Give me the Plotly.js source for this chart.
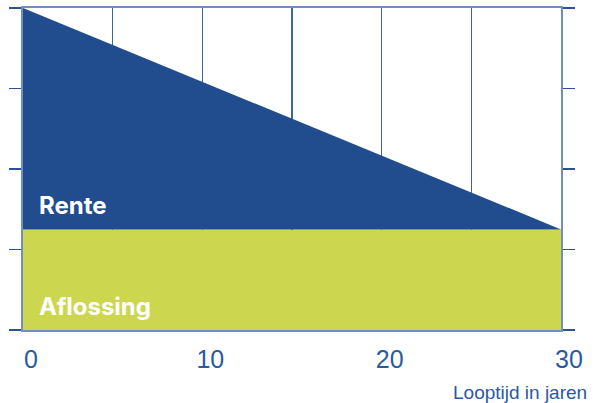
<!DOCTYPE html>
<html><head><meta charset="utf-8">
<script src="https://cdn.plot.ly/plotly-3.0.1.min.js"></script>
<style>body{margin:0;background:#fff}#c{width:606px;height:403px}</style>
</head><body><div id="c"></div>
<script>
const years = [0, 30];
const aflossing = [1.25, 1.25];
const renteTop = [4, 1.25];
const xTickVals = [0, 10, 20, 30];
const xTickText = ['0', '10', '20', '30'];
const yTickVals = [0, 1, 2, 3, 4];

const traces = [
  {x: years, y: aflossing, type: 'scatter', mode: 'lines', fill: 'tozeroy',
   fillcolor: '#ccd74f', line: {width: 0, color: '#ccd74f'}, hoverinfo: 'skip'},
  {x: years, y: renteTop, type: 'scatter', mode: 'lines', fill: 'tonexty',
   fillcolor: '#214d8e', line: {width: 0, color: '#214d8e'}, hoverinfo: 'skip'}
];
const layout = {
  width: 606, height: 403,
  margin: {l: 23, r: 45, t: 8, b: 73},
  paper_bgcolor: '#fff', plot_bgcolor: '#fff',
  showlegend: false,
  xaxis: {range: [0, 30], tickvals: xTickVals, ticktext: xTickText,
    showline: true, linecolor: '#6f8fc4', linewidth: 2, mirror: true,
    showgrid: true, gridcolor: '#3d64a3', gridwidth: 1.5,
    minor: {dtick: 5, showgrid: true, gridcolor: '#3d64a3', gridwidth: 1.5},
    ticks: '', zeroline: false, ticklabelshift: 8, ticklabelstandoff: 6,
    tickfont: {family: 'Liberation Sans, Arial, sans-serif', size: 25, color: '#2a5aa0'}},
  yaxis: {range: [0, 4], tickvals: yTickVals, showticklabels: false,
    showline: true, linecolor: '#6f8fc4', linewidth: 2, mirror: 'ticks',
    ticks: 'outside', ticklen: 12, tickwidth: 1.5, tickcolor: '#2a5396',
    showgrid: false, zeroline: false},
  annotations: [
    {text: 'Rente', x: 0, y: 1.55, xref: 'x', yref: 'y', xanchor: 'left', yanchor: 'middle',
     xshift: 14, showarrow: false, font: {family: 'Inter, sans-serif', size: 24, color: '#fff', weight: 700}},
    {text: 'Aflossing', x: 0, y: 0.29, xref: 'x', yref: 'y', xanchor: 'left', yanchor: 'middle',
     xshift: 14, showarrow: false, font: {family: 'Inter, sans-serif', size: 24, color: '#fff', weight: 700}},
    {text: 'Looptijd in jaren', x: 1, y: 0, xref: 'paper', yref: 'paper', xanchor: 'right', yanchor: 'top',
     xshift: 28, yshift: -50, showarrow: false, font: {family: 'Liberation Sans, Arial, sans-serif', size: 19, color: '#2a5aa0'}}
  ]
};
Plotly.newPlot('c', traces, layout, {displayModeBar: false, staticPlot: true});
</script></body></html>
